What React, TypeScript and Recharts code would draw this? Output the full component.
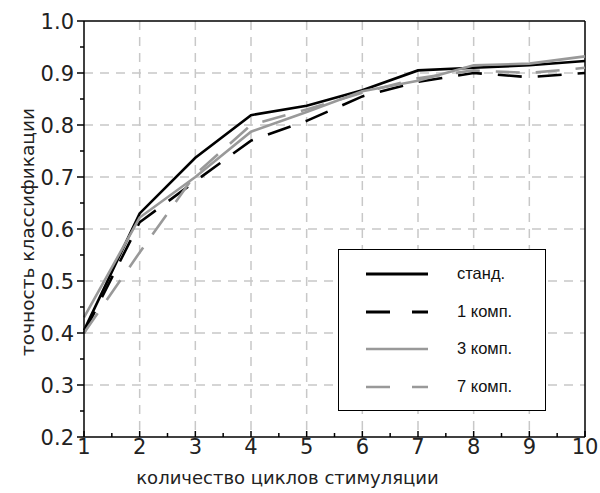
import React from 'react';
import { LineChart, Line, XAxis, YAxis, CartesianGrid, ReferenceLine } from 'recharts';

const cycles = [1, 2, 3, 4, 5, 6, 7, 8, 9, 10];
const stand = [0.405, 0.63, 0.737, 0.819, 0.837, 0.867, 0.905, 0.91, 0.915, 0.923];
const comp1 = [0.4, 0.613, 0.692, 0.77, 0.808, 0.855, 0.883, 0.9, 0.892, 0.9];
const comp3 = [0.43, 0.622, 0.7, 0.787, 0.825, 0.865, 0.885, 0.915, 0.918, 0.932];
const comp7 = [0.4, 0.555, 0.705, 0.8, 0.83, 0.862, 0.89, 0.905, 0.9, 0.91];

const seriesNames = ['станд.', '1 комп.', '3 комп.', '7 комп.'];
const seriesKeys = ['stand', 'comp1', 'comp3', 'comp7'];
const seriesColors = ['#000000', '#000000', '#999999', '#999999'];
const seriesDash = ['', '24 16', '', '24 16'];

const yTicks = [0.2, 0.25, 0.3, 0.35, 0.4, 0.45, 0.5, 0.55, 0.6, 0.65, 0.7, 0.75, 0.8, 0.85, 0.9, 0.95, 1.0];
const yMajor = [0.2, 0.3, 0.4, 0.5, 0.6, 0.7, 0.8, 0.9, 1.0];
const yGrid = [0.3, 0.4, 0.5, 0.6, 0.7, 0.8, 0.9];
const xTicks = [1, 1.5, 2, 2.5, 3, 3.5, 4, 4.5, 5, 5.5, 6, 6.5, 7, 7.5, 8, 8.5, 9, 9.5, 10];
const xMajor = [1, 2, 3, 4, 5, 6, 7, 8, 9, 10];
const xGrid = [2, 3, 4, 5, 6, 7, 8, 9];

const xLabel = 'количество циклов стимуляции';
const yLabel = 'точность классификации';

const data = cycles.map((c, i) => ({
  cycle: c,
  stand: stand[i],
  comp1: comp1[i],
  comp3: comp3[i],
  comp7: comp7[i],
}));

const W = 600;
const H = 493;
const M = { top: 21, right: 15, left: 0, bottom: 0 };
const Y_W = 84;
const X_H = 56;

const isMajor = (v: number, arr: number[]) => arr.some((a) => Math.abs(a - v) < 1e-6);

const YTick = (props: any) => {
  const { x, y, payload } = props;
  const v = payload.value;
  const axisX = x + 9;
  if (isMajor(v, yMajor)) {
    return (
      <g>
        <line x1={axisX - 7} x2={axisX} y1={y} y2={y} stroke="#000" strokeWidth={1.5} />
        <text x={x - 1} y={y} dy="0.36em" textAnchor="end" fontSize={21} fontFamily="DejaVu Sans" fill="#222">
          {v.toFixed(1)}
        </text>
      </g>
    );
  }
  return <line x1={axisX - 4} x2={axisX} y1={y} y2={y} stroke="#000" strokeWidth={1.5} />;
};

const XTick = (props: any) => {
  const { x, y, payload } = props;
  const v = payload.value;
  const axisY = y - 3;
  if (isMajor(v, xMajor)) {
    return (
      <g>
        <line x1={x} x2={x} y1={axisY} y2={axisY - 6} stroke="#000" strokeWidth={1.5} />
        <text x={x} y={axisY + 17} textAnchor="middle" fontSize={21} fontFamily="DejaVu Sans" fill="#222">
          {String(v)}
        </text>
      </g>
    );
  }
  return <line x1={x} x2={x} y1={axisY} y2={axisY - 4} stroke="#000" strokeWidth={1.5} />;
};

const YLabelContent = (props: any) => {
  const vb = props.viewBox || { x: 0, y: 0, width: 0, height: 0 };
  const cx = vb.x + 27;
  const cy = vb.y + vb.height / 2 + 3;
  return (
    <text
      x={cx}
      y={cy}
      textAnchor="middle"
      dominantBaseline="central"
      transform={`rotate(-90 ${cx} ${cy})`}
      fontSize={18.5}
      fontFamily="DejaVu Sans"
      fill="#222"
    >
      {yLabel}
    </text>
  );
};

const XLabelContent = (props: any) => {
  const vb = props.viewBox || { x: 0, y: 0, width: 0, height: 0 };
  const cx = vb.x + vb.width / 2 - 47;
  const cy = vb.y + 40;
  return (
    <text x={cx} y={cy} textAnchor="middle" dominantBaseline="central" fontSize={18} fontFamily="DejaVu Sans" fill="#222">
      {xLabel}
    </text>
  );
};

const LegendBox = () => (
  <div
    style={{
      position: 'absolute',
      left: 338,
      top: 249,
      width: 208,
      height: 162,
      border: '1px solid #000',
      background: '#fff',
      boxSizing: 'border-box',
    }}
  >
    {seriesNames.map((name, i) => (
      <div key={name} style={{ position: 'absolute', left: 0, top: 14 + i * 37.5, height: 20, width: 206 }}>
        <svg width={100} height={20} style={{ position: 'absolute', left: 0, top: 0 }}>
          <line
            x1={27}
            x2={89}
            y1={10}
            y2={10}
            stroke={seriesColors[i]}
            strokeWidth={i < 2 ? 3 : 2.5}
            strokeDasharray={seriesDash[i] ? '24 22' : undefined}
          />
        </svg>
        <span
          style={{
            position: 'absolute',
            left: 118,
            top: -1,
            lineHeight: '20px',
            fontSize: 16.5,
            fontFamily: 'Liberation Sans, Arial, sans-serif',
            color: '#111',
            whiteSpace: 'nowrap',
          }}
        >
          {name}
        </span>
      </div>
    ))}
  </div>
);

export default function App() {
  return (
    <div style={{ position: 'absolute', left: 0, top: 0, width: W, height: H, background: '#fff' }}>
      <LineChart width={W} height={H} data={data} margin={M}>
        <CartesianGrid
          stroke="#c8c8c8"
          strokeDasharray="9 7"
          strokeWidth={1.5}
          horizontalValues={yGrid}
          verticalValues={xGrid}
        />
        <XAxis
          dataKey="cycle"
          type="number"
          domain={[1, 10]}
          ticks={xTicks}
          interval={0}
          height={X_H}
          tickLine={false}
          tickSize={0}
          tickMargin={3}
          tick={<XTick />}
          axisLine={{ stroke: '#000', strokeWidth: 1.5 }}
          allowDecimals
          label={<XLabelContent />}
        />
        <YAxis
          type="number"
          domain={[0.2, 1.0]}
          ticks={yTicks}
          interval={0}
          width={Y_W}
          tickLine={false}
          tickSize={6}
          tickMargin={3}
          tick={<YTick />}
          axisLine={{ stroke: '#000', strokeWidth: 1.5 }}
          label={<YLabelContent />}
        />
        <ReferenceLine y={1.0} stroke="#000" strokeWidth={1.5} />
        <ReferenceLine x={10} stroke="#000" strokeWidth={1.5} />
        {seriesKeys.map((k, i) => (
          <Line
            key={k}
            type="linear"
            dataKey={k}
            name={seriesNames[i]}
            stroke={seriesColors[i]}
            strokeWidth={2.6}
            strokeDasharray={seriesDash[i] || undefined}
            dot={false}
            activeDot={false}
            isAnimationActive={false}
          />
        ))}
      </LineChart>
      <LegendBox />
    </div>
  );
}
